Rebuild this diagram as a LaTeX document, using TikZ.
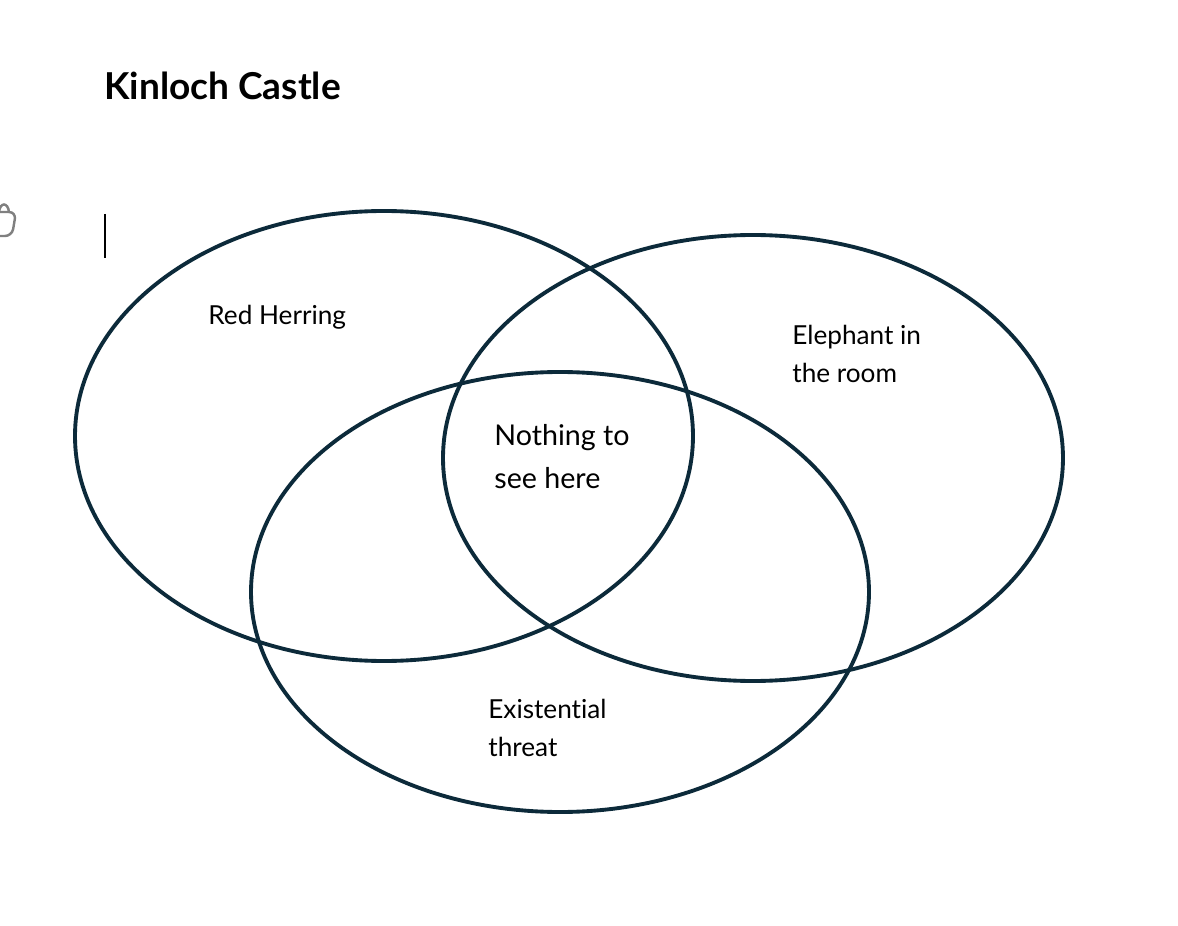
\documentclass[tikz,border=0pt]{standalone}
\usepackage{fontspec}
\setmainfont[Ligatures=NoCommon]{Lato}
\definecolor{ringblue}{HTML}{0C2A3A}
\definecolor{icongrey}{HTML}{808080}
\begin{document}
\begin{tikzpicture}[x=0.02cm,y=-0.02cm]
  \tikzset{
    ring/.style={draw=ringblue,line width=2.2pt},
    label/.style={anchor=base west,inner sep=0pt,font=\fontsize{14.9}{21.5}\selectfont,align=left},
  }
  \useasboundingbox[fill=white] (0,0) rectangle (1178,926);
  % Title
  \node[anchor=base west,inner sep=0pt,font=\fontsize{21.1}{25}\selectfont\bfseries] (title) at (104,100) {Kinloch Castle};
  % Text cursor
  \draw[line width=1.1pt] (105,214) -- (105,258);
  % Icon cut by the left edge
  \begin{scope}
    \clip (0,190) rectangle (30,250);
    \draw[icongrey,line width=1.4pt,rounded corners=4pt] (-6,212) -- (16,212) -- (12,236) -- (-6,236);
    \draw[icongrey,line width=1.4pt] (-1,212) .. controls (0,202) and (8,202) .. (9,212);
  \end{scope}
  % Three circles
  \draw[ring] (384,436) ellipse [x radius=309,y radius=225];
  \draw[ring] (753,458) ellipse [x radius=310,y radius=223];
  \draw[ring] (560,592) ellipse [x radius=309,y radius=220];
  % Circle labels
  \node[label] (red) at (208,324) {Red Herring};
  \node[label] (elephant) at (792,382) {Elephant in\\the room};
  \node[label] (threat) at (488,756) {Existential\\threat};
  \node[label,font=\fontsize{16.3}{24}\selectfont] (nothing) at (494,488) {Nothing to\\see here};
\end{tikzpicture}
\end{document}
